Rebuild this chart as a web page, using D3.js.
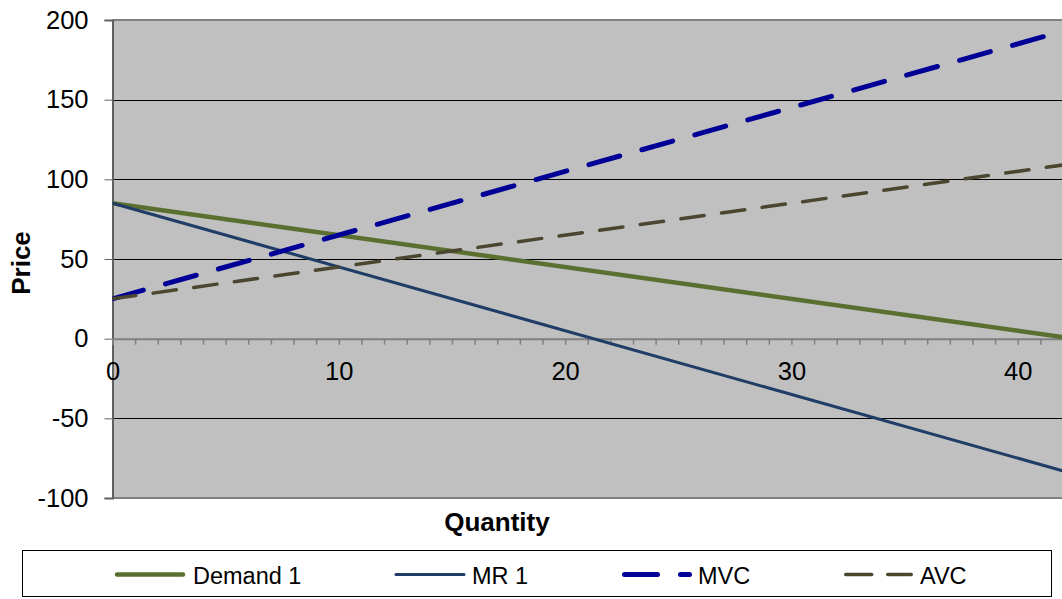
<!DOCTYPE html>
<html>
<head>
<meta charset="utf-8">
<script src="https://cdn.jsdelivr.net/npm/d3@7"></script>
<style>
  html, body { margin: 0; padding: 0; background: #fff; overflow: hidden; }
  svg { display: block; font-family: "Liberation Sans", Arial, sans-serif; }
</style>
</head>
<body>
<svg id="chart" width="1062" height="599"></svg>
<script>
// Quantity points and the price of each curve at those points
const quantity = [0, 42];
const demand1 = [85, 1];
const mr1 = [85, -83];
const mvc = [25, 193];
const avc = [25, 109];

const seriesNames = ["Demand 1", "MR 1", "MVC", "AVC"];
const yTicks = [-100, -50, 0, 50, 100, 150, 200];
const xLabels = [0, 10, 20, 30, 40];

const FONT = "'Liberation Sans', Arial, sans-serif";
const plot = { left: 112.5, top: 20, right: 1063, bottom: 498 };

const svg = d3.select("#chart");

const x = d3.scaleLinear().domain([0, 42]).range([plot.left, plot.right]);
const y = d3.scaleLinear().domain([-100, 200]).range([plot.bottom, plot.top]);

// plot background
svg.append("rect")
  .attr("x", plot.left).attr("y", plot.top)
  .attr("width", plot.right - plot.left).attr("height", plot.bottom - plot.top)
  .attr("fill", "#c0c0c0");

// horizontal gridlines
svg.append("g")
  .selectAll("line")
  .data(yTicks.filter(v => v !== 0 && v !== 200 && v !== -100))
  .join("line")
  .attr("x1", plot.left).attr("x2", plot.right)
  .attr("y1", d => Math.round(y(d)) + 0.5).attr("y2", d => Math.round(y(d)) + 0.5)
  .attr("stroke", "#000").attr("stroke-width", 1);

// top and bottom frame
[200, -100].forEach(v => {
  svg.append("line")
    .attr("x1", plot.left).attr("x2", plot.right)
    .attr("y1", y(v)).attr("y2", y(v))
    .attr("stroke", "#808080").attr("stroke-width", 2);
});

// y axis
const yAxis = d3.axisLeft(y).tickValues(yTicks).tickSize(8).tickPadding(16)
  .tickFormat(d => String(d));
const gy = svg.append("g")
  .attr("transform", `translate(${plot.left},0)`)
  .call(yAxis);
gy.select(".domain").attr("stroke", "#606060").attr("stroke-width", 2);
gy.selectAll(".tick line").attr("stroke", "#606060");
gy.selectAll(".tick text")
  .attr("font-size", 25.5).attr("fill", "#000").attr("font-family", FONT);

// x axis along zero price: minor tick every unit, labels every 10
const xAxis = d3.axisBottom(x)
  .tickValues(d3.range(0, 42))
  .tickSize(6)
  .tickFormat(d => xLabels.includes(d) ? String(d) : "");
const gx = svg.append("g")
  .attr("transform", `translate(0,${y(0)})`)
  .call(xAxis);
gx.select(".domain").attr("stroke", "#808080").attr("stroke-width", 2);
gx.selectAll(".tick line").attr("stroke", "#808080").attr("stroke-width", 1.5);
gx.selectAll(".tick text")
  .attr("font-size", 25.5).attr("fill", "#000").attr("font-family", FONT)
  .attr("dy", null).attr("y", 41);

// series styles
const styles = {
  "Demand 1": { color: "#5a7030", width: 4.5, dash: null },
  "MR 1": { color: "#1f3d66", width: 3, dash: null },
  "MVC": { color: "#000096", width: 5, dash: "32,23" },
  "AVC": { color: "#4b4630", width: 3.5, dash: "23.5,17.5" }
};
const values = { "Demand 1": demand1, "MR 1": mr1, "MVC": mvc, "AVC": avc };

svg.append("clipPath").attr("id", "plotclip")
  .append("rect")
  .attr("x", plot.left).attr("y", plot.top - 3)
  .attr("width", plot.right - plot.left + 5).attr("height", plot.bottom - plot.top + 6);

const line = d3.line().x(d => x(d[0])).y(d => y(d[1]));
const gLines = svg.append("g").attr("clip-path", "url(#plotclip)");
seriesNames.forEach(name => {
  const s = styles[name];
  gLines.append("path")
    .datum(quantity.map((q, i) => [q, values[name][i]]))
    .attr("d", line)
    .attr("fill", "none")
    .attr("stroke", s.color)
    .attr("stroke-width", s.width)
    .attr("stroke-linecap", "round")
    .attr("stroke-dasharray", s.dash);
});

// axis titles
svg.append("text")
  .attr("x", 497).attr("y", 531)
  .attr("text-anchor", "middle")
  .attr("font-size", 26).attr("font-weight", "bold")
  .text("Quantity");
svg.append("text")
  .attr("transform", "translate(30,263) rotate(-90)")
  .attr("text-anchor", "middle")
  .attr("font-size", 26).attr("font-weight", "bold")
  .text("Price");

// legend
const legend = svg.append("g");
legend.append("rect")
  .attr("x", 22.5).attr("y", 550.5).attr("width", 1029).attr("height", 46)
  .attr("fill", "#fff").attr("stroke", "#000").attr("stroke-width", 1);

const legendLine = {
  "Demand 1": [117, 183], "MR 1": [396, 464],
  "MVC": [624.5, 689.5], "AVC": [845.75, 911.25]
};
const legendText = { "Demand 1": 193, "MR 1": 472, "MVC": 698, "AVC": 920 };
const legendDash = { "MVC": "33,23", "AVC": "26,16" };
seriesNames.forEach(name => {
  const s = styles[name];
  const [x1, x2] = legendLine[name];
  legend.append("line")
    .attr("x1", x1).attr("x2", x2)
    .attr("y1", 574.5).attr("y2", 574.5)
    .attr("stroke", s.color)
    .attr("stroke-width", s.width)
    .attr("stroke-linecap", "round")
    .attr("stroke-dasharray", legendDash[name] || null);
  legend.append("text")
    .attr("x", legendText[name]).attr("y", 584)
    .attr("font-size", 23.5)
    .text(name);
});
</script>
</body>
</html>
